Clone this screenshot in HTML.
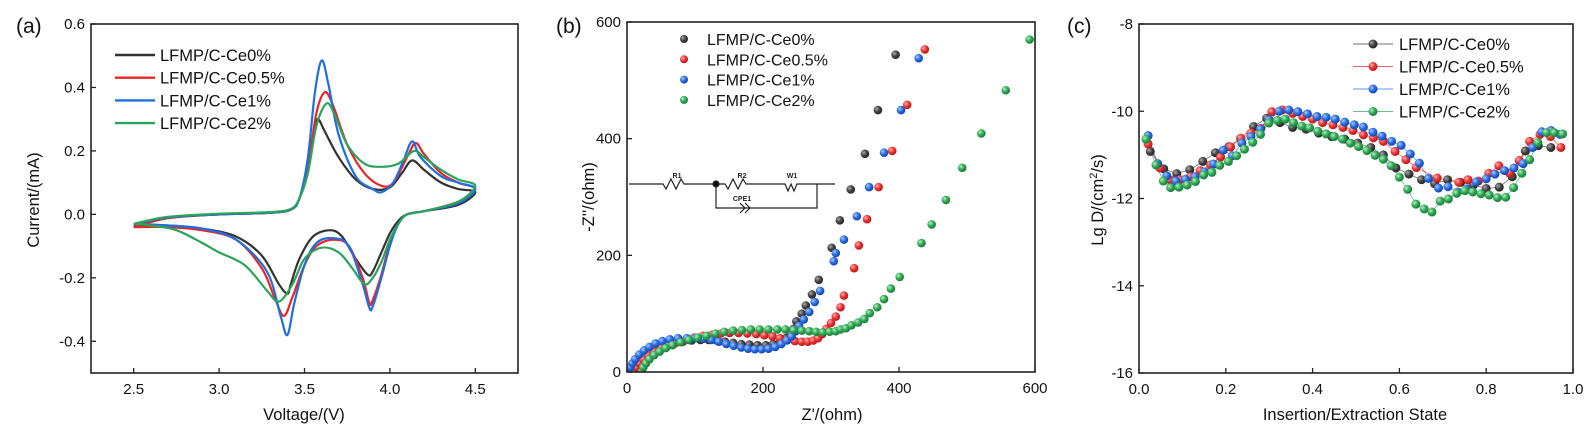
<!DOCTYPE html>
<html><head><meta charset="utf-8"><style>
html,body{margin:0;padding:0;background:#fff}
svg{display:block;font-family:"Liberation Sans",sans-serif}
</style></head><body>
<svg id="fig" width="1584" height="424" viewBox="0 0 1584 424" xmlns="http://www.w3.org/2000/svg">
<defs>
<radialGradient id="g-black" cx="0.35" cy="0.35" r="0.7"><stop offset="0" stop-color="#aaa"/><stop offset="0.5" stop-color="#444"/><stop offset="1" stop-color="#222"/></radialGradient>
<radialGradient id="g-red" cx="0.35" cy="0.35" r="0.7"><stop offset="0" stop-color="#ffb0b0"/><stop offset="0.5" stop-color="#ee3333"/><stop offset="1" stop-color="#b01515"/></radialGradient>
<radialGradient id="g-blue" cx="0.35" cy="0.35" r="0.7"><stop offset="0" stop-color="#a8c8ff"/><stop offset="0.5" stop-color="#2a6fe0"/><stop offset="1" stop-color="#1040a8"/></radialGradient>
<radialGradient id="g-green" cx="0.35" cy="0.35" r="0.7"><stop offset="0" stop-color="#b0f0c0"/><stop offset="0.5" stop-color="#33aa55"/><stop offset="1" stop-color="#16753a"/></radialGradient>
</defs>
</svg>
<script>
// ---------- Panel (a) data: CV curves [voltage, current] ----------
const cvNames = ["LFMP/C-Ce0%","LFMP/C-Ce0.5%","LFMP/C-Ce1%","LFMP/C-Ce2%"];
const cvBlack = [[2.5,-0.035],[2.7,-0.01],[3.0,0.0],[3.3,0.005],[3.42,0.015],[3.47,0.05],[3.52,0.15],[3.56,0.27],[3.58,0.30],[3.62,0.26],[3.7,0.18],[3.8,0.11],[3.9,0.08],[4.0,0.085],[4.07,0.13],[4.13,0.17],[4.2,0.14],[4.3,0.10],[4.4,0.08],[4.5,0.07],
 [4.4,0.03],[4.2,0.01],[4.1,0.0],[4.05,-0.02],[4.0,-0.06],[3.95,-0.12],[3.9,-0.18],[3.87,-0.19],[3.8,-0.14],[3.72,-0.07],[3.65,-0.05],[3.55,-0.07],[3.47,-0.14],[3.42,-0.22],[3.4,-0.25],[3.35,-0.22],[3.25,-0.13],[3.1,-0.07],[2.9,-0.045],[2.7,-0.035],[2.5,-0.035]];
const cvRed = [[2.5,-0.04],[2.7,-0.012],[3.0,0.0],[3.3,0.005],[3.42,0.015],[3.47,0.05],[3.52,0.15],[3.57,0.32],[3.62,0.385],[3.67,0.34],[3.75,0.22],[3.85,0.13],[3.95,0.09],[4.02,0.1],[4.1,0.18],[4.15,0.225],[4.2,0.19],[4.3,0.13],[4.4,0.1],[4.5,0.08],
 [4.4,0.04],[4.2,0.01],[4.1,0.0],[4.05,-0.03],[4.0,-0.09],[3.95,-0.19],[3.9,-0.27],[3.88,-0.28],[3.84,-0.2],[3.76,-0.1],[3.67,-0.08],[3.57,-0.1],[3.5,-0.16],[3.43,-0.26],[3.38,-0.32],[3.33,-0.27],[3.25,-0.17],[3.1,-0.08],[2.9,-0.05],[2.7,-0.04],[2.5,-0.04]];
const cvBlue = [[2.5,-0.03],[2.7,-0.01],[3.0,0.0],[3.3,0.005],[3.42,0.015],[3.47,0.05],[3.52,0.18],[3.56,0.38],[3.6,0.485],[3.64,0.41],[3.7,0.25],[3.8,0.12],[3.9,0.08],[3.95,0.07],[4.02,0.1],[4.08,0.17],[4.13,0.23],[4.18,0.18],[4.3,0.12],[4.4,0.1],[4.5,0.08],
 [4.4,0.035],[4.2,0.01],[4.1,0.0],[4.05,-0.03],[4.0,-0.1],[3.95,-0.2],[3.9,-0.29],[3.88,-0.295],[3.84,-0.22],[3.76,-0.1],[3.67,-0.075],[3.57,-0.09],[3.5,-0.16],[3.44,-0.28],[3.4,-0.38],[3.36,-0.32],[3.28,-0.18],[3.1,-0.08],[2.9,-0.045],[2.7,-0.035],[2.5,-0.03]];
const cvGreen = [[2.5,-0.03],[2.7,-0.008],[3.0,0.002],[3.3,0.007],[3.42,0.017],[3.47,0.05],[3.52,0.13],[3.57,0.28],[3.63,0.35],[3.68,0.31],[3.75,0.22],[3.85,0.16],[3.95,0.15],[4.05,0.16],[4.14,0.2],[4.2,0.18],[4.3,0.14],[4.4,0.11],[4.5,0.09],
 [4.4,0.04],[4.2,0.01],[4.1,0.0],[4.05,-0.03],[4.0,-0.08],[3.95,-0.15],[3.9,-0.2],[3.85,-0.22],[3.78,-0.17],[3.7,-0.12],[3.6,-0.105],[3.5,-0.14],[3.43,-0.22],[3.35,-0.275],[3.28,-0.24],[3.15,-0.16],[3.0,-0.12],[2.9,-0.09],[2.75,-0.05],[2.6,-0.035],[2.5,-0.03]];
const aXTicks = [2.5,3.0,3.5,4.0,4.5];
const aYTicks = [-0.4,-0.2,0.0,0.2,0.4,0.6];

// ---------- Panel (b) data: Nyquist [Z', -Z''] ----------
const eisBlack = [[8,0],[10,8],[14,15],[20,22],[28,29],[37,35],[47,40],[58,45],[70,49],[82,52],[95,54],[108,55],[120,55],[132,54],[144,52],[156,50],[168,48],[180,47],[192,46],[204,46],[215,48],[225,52],[233,58],[240,66],[245,74],[249,87],[257,100],[263,114],[272,133],[282,158],[301,213],[313,260],[329,313],[350,374],[369,449],[395,544]];
const eisRed = [[12,0],[14,8],[18,15],[24,22],[31,29],[40,35],[50,41],[61,46],[73,51],[86,55],[99,59],[112,62],[125,64],[138,66],[151,67],[164,67],[177,66],[190,65],[202,63],[214,61],[225,58],[236,55],[247,53],[257,52],[266,52],[274,54],[281,58],[287,65],[293,74],[300,84],[307,95],[314,111],[319,131],[334,178],[341,217],[353,262],[370,317],[390,379],[412,458],[438,553]];
const eisBlue = [[3,0],[5,8],[8,15],[12,22],[18,30],[25,37],[33,43],[42,49],[52,53],[63,56],[75,58],[88,58],[100,58],[112,57],[124,55],[135,52],[146,48],[157,45],[168,42],[178,40],[188,39],[198,39],[208,40],[218,43],[227,48],[235,54],[242,61],[248,70],[253,79],[260,90],[268,103],[276,120],[284,139],[304,190],[307,204],[319,227],[338,267],[356,317],[378,376],[403,449],[429,538]];
const eisGreen = [[22,0],[24,8],[28,15],[33,22],[40,29],[48,35],[57,41],[67,46],[79,51],[91,55],[104,59],[117,62],[130,66],[143,69],[156,71],[169,72],[182,73],[195,73],[208,73],[221,73],[233,73],[245,72],[257,71],[268,70],[278,69],[288,68],[298,69],[307,70],[314,73],[322,75],[330,80],[340,85],[349,91],[357,101],[368,111],[378,125],[388,143],[401,163],[433,221],[448,253],[469,295],[493,350],[521,409],[557,483],[592,570]];
const bXTicks = [0,200,400,600];
const bYTicks = [0,200,400,600];

// ---------- Panel (c) data: Lg D vs state ----------
const dBlack = [[0.026,-10.92],[0.057,-11.32],[0.087,-11.43],[0.117,-11.34],[0.147,-11.15],[0.176,-10.95],[0.207,-10.81],[0.234,-10.62],[0.264,-10.35],[0.294,-10.16],[0.325,-10.26],[0.354,-10.37],[0.385,-10.41],[0.414,-10.5],[0.444,-10.58],[0.474,-10.64],[0.504,-10.73],[0.534,-10.83],[0.563,-11.0],[0.592,-11.3],[0.622,-11.44],[0.651,-11.57],[0.681,-11.66],[0.711,-11.57],[0.741,-11.63],[0.771,-11.69],[0.8,-11.77],[0.83,-11.74],[0.86,-11.5],[0.89,-10.91],[0.92,-10.79],[0.949,-10.83]];
const dRed = [[0.021,-10.75],[0.048,-11.3],[0.071,-11.57],[0.095,-11.57],[0.118,-11.5],[0.141,-11.36],[0.165,-11.23],[0.188,-11.05],[0.211,-10.82],[0.235,-10.62],[0.258,-10.5],[0.281,-10.39],[0.306,-10.01],[0.33,-9.97],[0.354,-10.05],[0.377,-10.12],[0.4,-10.18],[0.423,-10.26],[0.447,-10.31],[0.47,-10.37],[0.493,-10.44],[0.517,-10.54],[0.54,-10.61],[0.563,-10.69],[0.59,-10.92],[0.615,-11.11],[0.639,-11.29],[0.687,-11.53],[0.737,-11.63],[0.758,-11.57],[0.782,-11.6],[0.806,-11.42],[0.829,-11.25],[0.854,-11.42],[0.876,-11.13],[0.9,-10.69],[0.924,-10.53],[0.948,-10.58],[0.972,-10.83]];
const dBlue = [[0.021,-10.56],[0.043,-11.2],[0.064,-11.48],[0.085,-11.6],[0.107,-11.56],[0.129,-11.5],[0.151,-11.39],[0.172,-11.21],[0.194,-10.89],[0.215,-11.02],[0.237,-10.73],[0.258,-10.58],[0.28,-10.41],[0.3,-10.2],[0.323,-10.0],[0.345,-9.97],[0.366,-10.01],[0.388,-10.06],[0.41,-10.12],[0.431,-10.14],[0.452,-10.18],[0.474,-10.25],[0.496,-10.31],[0.517,-10.36],[0.539,-10.48],[0.56,-10.57],[0.582,-10.69],[0.604,-10.78],[0.625,-10.98],[0.646,-11.19],[0.667,-11.54],[0.69,-11.76],[0.712,-11.73],[0.734,-11.85],[0.755,-11.78],[0.777,-11.62],[0.8,-11.55],[0.82,-11.44],[0.842,-11.36],[0.864,-11.3],[0.885,-11.2],[0.907,-10.83],[0.928,-10.47],[0.949,-10.44],[0.97,-10.53]];
const dGreen = [[0.016,-10.64],[0.039,-11.23],[0.056,-11.6],[0.073,-11.75],[0.092,-11.74],[0.111,-11.69],[0.13,-11.61],[0.149,-11.46],[0.168,-11.4],[0.186,-11.24],[0.206,-11.15],[0.225,-11.02],[0.243,-10.87],[0.262,-10.71],[0.28,-10.53],[0.299,-10.27],[0.319,-10.21],[0.337,-10.18],[0.356,-10.26],[0.375,-10.34],[0.393,-10.38],[0.412,-10.46],[0.431,-10.52],[0.45,-10.58],[0.469,-10.64],[0.487,-10.73],[0.506,-10.81],[0.525,-10.9],[0.544,-11.01],[0.563,-11.1],[0.581,-11.25],[0.6,-11.51],[0.619,-11.79],[0.638,-12.13],[0.657,-12.24],[0.675,-12.31],[0.694,-12.06],[0.713,-12.01],[0.732,-11.88],[0.751,-11.82],[0.769,-11.85],[0.788,-11.89],[0.807,-11.92],[0.826,-11.98],[0.845,-11.97],[0.863,-11.75],[0.882,-11.42],[0.9,-11.11],[0.919,-10.72],[0.939,-10.49],[0.957,-10.49],[0.976,-10.52]];
const cXTicks = [0.0,0.2,0.4,0.6,0.8,1.0];
const cYTicks = [-16,-14,-12,-10,-8];

const COLORS = ["#333333","#e8262a","#1f6fdf","#2aa45a"];
const GRADS = ["g-black","g-red","g-blue","g-green"];
const NS = "http://www.w3.org/2000/svg";
const svg = document.getElementById("fig");
function mk(tag, attrs, parent){
  const e = document.createElementNS(NS, tag);
  for (const k in attrs) e.setAttribute(k, attrs[k]);
  (parent||svg).appendChild(e);
  return e;
}
function scale(d0,d1,r0,r1){ return v => r0 + (v-d0)/(d1-d0)*(r1-r0); }
function txt(x,y,s,size,anchor,parent,name){
  const t = mk("text",{x:x,y:y,"font-size":size,"text-anchor":anchor||"middle",fill:"#111"},parent);
  
  
  t.textContent = s;
  return t;
}
function smooth(pts){
  let d = "M"+pts[0][0].toFixed(1)+","+pts[0][1].toFixed(1);
  for (let i=0;i<pts.length-1;i++){
    const p0=pts[i-1]||pts[i], p1=pts[i], p2=pts[i+1], p3=pts[i+2]||p2;
    const c1=[p1[0]+(p2[0]-p0[0])/6, p1[1]+(p2[1]-p0[1])/6];
    const c2=[p2[0]-(p3[0]-p1[0])/6, p2[1]-(p3[1]-p1[1])/6];
    d += " C"+c1[0].toFixed(1)+","+c1[1].toFixed(1)+" "+c2[0].toFixed(1)+","+c2[1].toFixed(1)+" "+p2[0].toFixed(1)+","+p2[1].toFixed(1);
  }
  return d;
}
function axes(g, box, sx, sy, xt, yt, fmtX, fmtY, prefix){
  xt.forEach(v=>{
    const x = sx(v);
    const tk = mk("line",{x1:x,x2:x,y1:box.b,y2:box.b-5,stroke:"#222","stroke-width":1.3},g);
    
    
    txt(x, box.b+21, fmtX(v), 15, "middle", g, prefix+"-x-tick-label");
  });
  yt.forEach(v=>{
    const y = sy(v);
    const tk = mk("line",{x1:box.l,x2:box.l+5,y1:y,y2:y,stroke:"#222","stroke-width":1.3},g);
    
    
    txt(box.l-6, y+5, fmtY(v), 15, "end", g, prefix+"-y-tick-label");
  });
  const fr = mk("rect",{x:box.l,y:box.t,width:box.r-box.l,height:box.b-box.t,fill:"none",stroke:"#222","stroke-width":1.6},g);
  
  
}

// ===== Panel A =====
(function(){
  const g = mk("g",{});
  
  
  const box = {l:91,r:518,t:24,b:373};
  const sx = scale(2.25,4.75,box.l,box.r), sy = scale(-0.5,0.6,box.b,box.t);
  const series = [cvBlack,cvRed,cvBlue,cvGreen];
  series.forEach((s,i)=>{
    const p = mk("path",{d:smooth(s.map(q=>[sx(q[0]),sy(q[1])])),fill:"none",stroke:COLORS[i],"stroke-width":2.2,"stroke-linejoin":"round"},g);
    
    
  });
  axes(g, box, sx, sy, aXTicks, aYTicks, v=>v.toFixed(1), v=>v.toFixed(1), "a");
  cvNames.forEach((n,i)=>{
    const y = 55 + i*22.7;
    const l = mk("line",{x1:115,x2:155,y1:y,y2:y,stroke:COLORS[i],"stroke-width":2.4},g);
    
    
    txt(160, y+6, n, 16.5, "start", g, "cv-legend-entry");
  });
  txt(16, 33, "(a)", 21, "start", g, "panel-label-a");
  txt(304, 420, "Voltage/(V)", 16.5, "middle", g, "a-x-axis-title");
  const yt = txt(0,0,"Current/(mA)",16.5,"middle",g,"a-y-axis-title");
  yt.setAttribute("transform","translate(39,200) rotate(-90)");
})();

// ===== Panel B =====
(function(){
  const g = mk("g",{});
  
  
  const box = {l:627,r:1035,t:22,b:372};
  const sx = scale(0,600,box.l,box.r), sy = scale(0,600,box.b,box.t);
  const series = [eisBlack,eisRed,eisBlue,eisGreen];
  const clip = mk("clipPath",{id:"clipb"},g);
  mk("rect",{x:box.l,y:box.t,width:box.r-box.l,height:box.b-box.t},clip);
  const dots = mk("g",{"clip-path":"url(#clipb)"},g);
  series.forEach((s,i)=>{
    s.forEach(q=>{
      const c = mk("circle",{cx:sx(q[0]),cy:sy(q[1]),r:4.3,fill:"url(#"+GRADS[i]+")"},dots);
      
      
    });
  });
  // equivalent circuit
  const ec = mk("g",{stroke:"#222","stroke-width":1.2,fill:"none"},g);
  
  
  mk("path",{d:"M629,184 H663 l3,5 l5,-10 l5,10 l5,-10 l3,5 H716 H725 l3,5 l5,-10 l5,10 l5,-10 l3,5 H785 l3,7 l3,-7 l3,7 l3,-7 H835"},ec);
  mk("path",{d:"M716,184 V208 H817 V184"},ec);
  mk("path",{d:"M740,203 l5,5 l-5,5 M745,203 l5,5 l-5,5"},ec);
  mk("circle",{cx:716,cy:184,r:3,fill:"#111"},ec);
  [["R1",677,178],["R2",742,178],["W1",792,178],["CPE1",742,201]].forEach(a=>{
    const t = mk("text",{x:a[1],y:a[2],"font-size":7,"font-weight":"bold","text-anchor":"middle",fill:"#222",stroke:"none"},ec);
    
    
    t.textContent = a[0];
  });
  axes(g, box, sx, sy, bXTicks, bYTicks, v=>String(v), v=>String(v), "b");
  cvNames.forEach((n,i)=>{
    const y = 39 + i*20.3;
    const c = mk("circle",{cx:684,cy:y,r:4,fill:"url(#"+GRADS[i]+")"},g);
    
    
    txt(707, y+6, n, 16, "start", g, "eis-legend-entry");
  });
  txt(556, 33, "(b)", 21, "start", g, "panel-label-b");
  txt(832, 420, "Z'/(ohm)", 16.5, "middle", g, "b-x-axis-title");
  const yt = txt(0,0,"-Z''/(ohm)",16.5,"middle",g,"b-y-axis-title");
  yt.setAttribute("transform","translate(594,197) rotate(-90)");
})();

// ===== Panel C =====
(function(){
  const g = mk("g",{});
  
  
  const box = {l:1139,r:1573,t:24,b:373};
  const sx = scale(0,1,box.l,box.r), sy = scale(-16,-8,box.b,box.t);
  const series = [dBlack,dRed,dBlue,dGreen];
  series.forEach((s,i)=>{
    const pl = mk("polyline",{points:s.map(q=>sx(q[0]).toFixed(1)+","+sy(q[1]).toFixed(1)).join(" "),fill:"none",stroke:COLORS[i],"stroke-width":0.8,"stroke-opacity":0.7},g);
    
    
  });
  series.forEach((s,i)=>{
    s.forEach(q=>{
      const c = mk("circle",{cx:sx(q[0]),cy:sy(q[1]),r:4.5,fill:"url(#"+GRADS[i]+")"},g);
      
      
    });
  });
  axes(g, box, sx, sy, cXTicks, cYTicks, v=>v.toFixed(1), v=>String(v), "c");
  cvNames.forEach((n,i)=>{
    const y = 44 + i*22.5;
    const l = mk("line",{x1:1353,x2:1393,y1:y,y2:y,stroke:COLORS[i],"stroke-width":0.9,"stroke-opacity":0.7},g);
    
    
    const c = mk("circle",{cx:1373,cy:y,r:4.5,fill:"url(#"+GRADS[i]+")"},g);
    
    
    txt(1399, y+6, n, 16.5, "start", g, "diffusion-legend-entry");
  });
  txt(1067, 33, "(c)", 21, "start", g, "panel-label-c");
  txt(1355, 420, "Insertion/Extraction State", 16.5, "middle", g, "c-x-axis-title");
  const yt = mk("text",{"font-size":16.5,"text-anchor":"middle",fill:"#111",transform:"translate(1103,200) rotate(-90)"},g);
  
  
  yt.appendChild(document.createTextNode("Lg D/(cm"));
  const sup = mk("tspan",{dy:-6,"font-size":11},yt);
  sup.textContent = "2";
  const rest = mk("tspan",{dy:6},yt);
  rest.textContent = "/s)";
})();
</script>
</body></html>
